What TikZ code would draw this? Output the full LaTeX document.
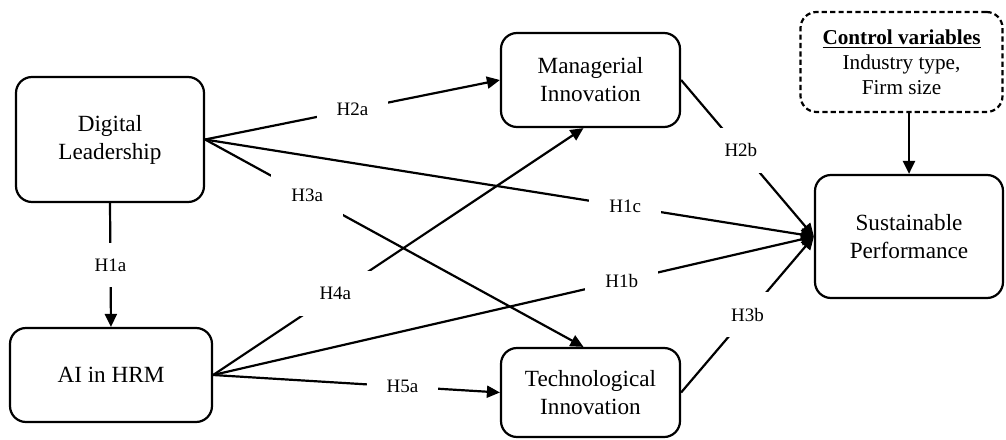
\documentclass[tikz,border=0pt]{standalone}
\usepackage{fontspec}
\setmainfont{Liberation Serif}
\usetikzlibrary{arrows.meta,calc}
\begin{document}
\begin{tikzpicture}[x=0.5pt,y=-0.5pt,
  box/.style={draw, line width=1.1pt, rounded corners=8pt, align=center, inner sep=0pt, font=\fontsize{11.6}{14}\selectfont},
  ctrl/.style={box, dash pattern=on 2.6pt off 1.6pt, font=\fontsize{10.6}{12.5}\selectfont},
  lab/.style={fill=white, inner xsep=10pt, inner ysep=8pt, font=\fontsize{9.5}{11}\selectfont},
  conn/.style={line width=1.1pt},
  arr/.style={conn, -{Triangle[length=6.5pt,width=6pt]}},
]
\useasboundingbox (0,0) rectangle (1006,439);
\node[box, minimum width=94pt, minimum height=62.5pt] (DL) at (110,139.5) {Digital\\Leadership};
\node[box, minimum width=101pt, minimum height=47pt] (AI) at (111,375) {AI in HRM};
\node[box, minimum width=89.5pt, minimum height=47pt] (MI) at (590.5,80) {Managerial\\Innovation};
\node[box, minimum width=89.5pt, minimum height=44.5pt] (TI) at (590.5,392.5) {Technological\\Innovation};
\node[box, minimum width=94pt, minimum height=61.5pt] (SP) at (909,236.5) {Sustainable\\Performance};
\node[ctrl, minimum width=101pt, minimum height=50pt] (CV) at (901.5,62) {\textbf{\underline{Control variables}}\\Industry type,\\Firm size};

\draw[arr] (DL.east) -- node[lab, pos=0.5]{H2a} (MI.west);
\draw[arr] (DL.east) -- node[lab, pos=0.69]{H1c} (SP.west);
\draw[arr] (DL.east) -- node[lab, pos=0.27]{H3a} ($(TI.north)+(-7,0)$);
\draw[arr] (DL.south) -- node[lab]{H1a} (AI.north);
\draw[arr] (AI.east) -- node[lab, pos=0.33]{H4a} ($(MI.south)+(-7,0)$);
\draw[arr] (AI.east) -- node[lab, pos=0.68]{H1b} (SP.west);
\draw[arr] (AI.east) -- node[lab, pos=0.66]{H5a} (TI.west);
\draw[arr] (MI.east) -- node[lab, pos=0.45]{H2b} (SP.west);
\draw[arr] (TI.east) -- node[lab, pos=0.5]{H3b} (SP.west);
\draw[arr] (SP.north |- CV.south) -- (SP.north);
\end{tikzpicture}
\end{document}
